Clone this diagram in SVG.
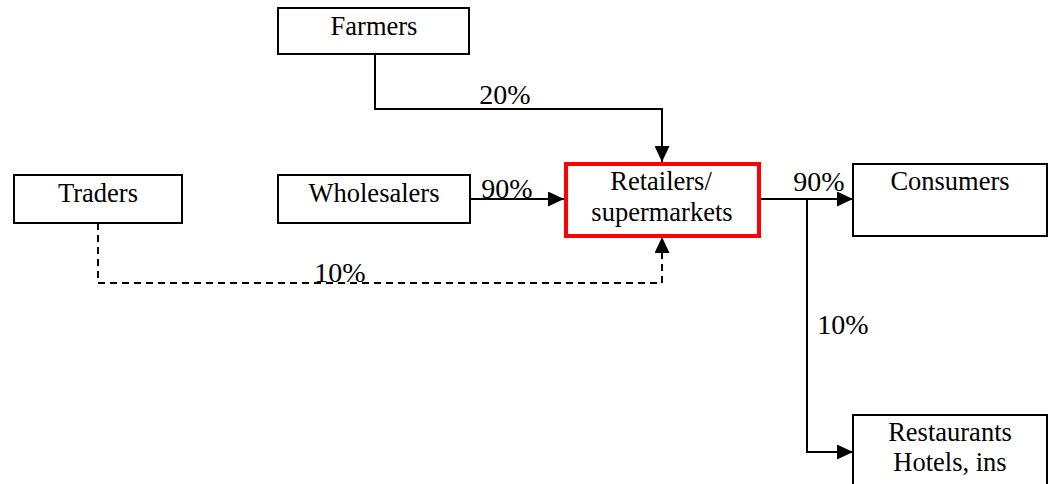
<svg xmlns="http://www.w3.org/2000/svg" width="1051" height="484" viewBox="0 0 1051 484">
<style>
.box{fill:#fff;stroke:#000;stroke-width:2}
.red{fill:#fff;stroke:#ff0000;stroke-width:4}
.t{font-family:"Liberation Serif","Times New Roman",serif;font-size:26.5px;fill:#000;text-anchor:middle}
.p{font-family:"Liberation Serif","Times New Roman",serif;font-size:28px;fill:#000;text-anchor:middle}
.c{fill:none;stroke:#000;stroke-width:2}
.d{stroke-dasharray:7,5}
</style>
<defs>
<marker id="ah" markerUnits="userSpaceOnUse" markerWidth="16" markerHeight="15" refX="16" refY="7.5" orient="auto">
<path d="M0,0 L16,7.5 L0,15 z" fill="#000"/>
</marker>
</defs>
<rect width="1051" height="484" fill="#fff"/>
<g id="connectors">
<path class="c" d="M375,54 V109 H662 V162" marker-end="url(#ah)"/>
<path class="c" d="M470,199 H564" marker-end="url(#ah)"/>
<path class="c" d="M761,199 H853" marker-end="url(#ah)"/>
<path class="c" d="M807,199 V452 H853" marker-end="url(#ah)"/>
<path class="c d" d="M98,223 V283 H662 V237" marker-end="url(#ah)"/>
<text class="p" x="505" y="104">20%</text>
<text class="p" x="507" y="198">90%</text>
<text class="p" x="340" y="282">10%</text>
<text class="p" x="819" y="191">90%</text>
<text class="p" x="843" y="334">10%</text>
</g>
<g id="farmers">
<rect class="box" x="278" y="8" width="191" height="46"/>
<text class="t" x="374" y="35">Farmers</text>
</g>
<g id="traders">
<rect class="box" x="14" y="175" width="168" height="48"/>
<text class="t" x="98" y="202">Traders</text>
</g>
<g id="wholesalers">
<rect class="box" x="278" y="175" width="192" height="48"/>
<text class="t" x="374" y="202">Wholesalers</text>
</g>
<g id="retailers">
<rect class="red" x="566" y="164" width="193" height="72"/>
<text class="t" x="661" y="190">Retailers/</text>
<text class="t" x="662" y="221">supermarkets</text>
</g>
<g id="consumers">
<rect class="box" x="853" y="164" width="194" height="72"/>
<text class="t" x="950" y="190">Consumers</text>
</g>
<g id="restaurants">
<rect class="box" x="853" y="415" width="194" height="80"/>
<text class="t" x="950" y="441">Restaurants</text>
<text class="t" x="950" y="471">Hotels, ins</text>
</g>
</svg>
